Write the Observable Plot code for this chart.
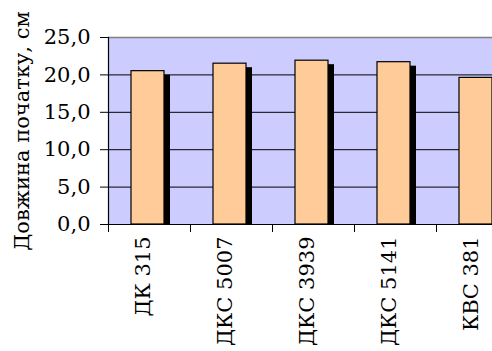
<!DOCTYPE html>
<html>
<head>
<meta charset="utf-8">
<script src="https://cdn.jsdelivr.net/npm/d3@7"></script>
<script src="https://cdn.jsdelivr.net/npm/@observablehq/plot@0.6"></script>
<style>
  html, body { margin: 0; padding: 0; background: white; overflow: hidden; }
</style>
</head>
<body>
<div id="chart"></div>
<script>
// Ear length by hybrid
const categories = ["ДК 315", "ДКС 5007", "ДКС 3939", "ДКС 5141", "КВС 381"];
const values = [20.5, 21.5, 21.9, 21.7, 19.6];
const yTicks = [0, 5, 10, 15, 20, 25];
const yTitle = "Довжина початку, см";

const data = categories.map((name, i) => ({name, value: values[i]}));

const step = 82; // band width in px
const fmt = d => d.toFixed(1).replace(".", ",");
const serif = "DejaVu Serif";
const fs = 21;

const chart = Plot.plot({
  width: 492,
  height: 351,
  marginLeft: 108,
  marginTop: 37,
  marginBottom: 127,
  marginRight: 0,
  style: {
    fontSize: "21px",
    background: "white",
    color: "black",
    overflow: "hidden"
  },
  x: {domain: categories, range: [108, 108 + step * categories.length], padding: 0, axis: null},
  y: {domain: [0, 25], axis: null},
  marks: [
    Plot.frame({fill: "#ccccff", stroke: null}),
    Plot.ruleY(yTicks.slice(1, -1), {stroke: "black", strokeWidth: 1}),
    Plot.ruleY([25], {stroke: "#808080", strokeWidth: 1.5}),
    // drop shadow behind each bar
    Plot.barY(data, {x: "name", y: "value", fill: "black", insetLeft: 29, insetRight: 20, dy: 4, clip: true}),
    // front face
    Plot.barY(data, {x: "name", y: "value", fill: "#ffcc99", stroke: "black", strokeWidth: 1.2, insetLeft: 23, insetRight: 26}),
    Plot.ruleY([0], {stroke: "black", strokeWidth: 1.2}),
    Plot.frame({anchor: "left", stroke: "black", strokeWidth: 1.2}),
    // tick marks
    Plot.axisY(yTicks, {tickSize: 8, tickFormat: () => "", label: null, stroke: "black"}),
    Plot.axisX({tickSize: 8, tickFormat: () => "", dx: -step / 2, label: null, stroke: "black"}),
    // tick labels
    Plot.text(yTicks, {y: d => d, text: fmt, frameAnchor: "left", textAnchor: "end", dx: -18, fontSize: fs, fontFamily: serif, fill: "black"}),
    Plot.text(categories, {x: d => d, text: d => d, frameAnchor: "bottom", rotate: -90, textAnchor: "end", dy: 12, fontSize: fs, fontFamily: serif, fill: "black"}),
    // axis title
    Plot.text([yTitle], {frameAnchor: "left", textAnchor: "middle", rotate: -90, dx: -86, fontSize: fs, fontFamily: serif, fill: "black"})
  ]
});

document.getElementById("chart").appendChild(chart);
</script>
</body>
</html>
